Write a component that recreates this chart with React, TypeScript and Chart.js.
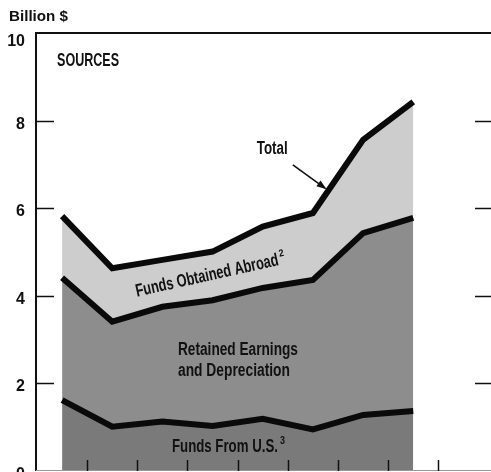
import React, { useEffect, useRef } from "react";
import { Chart, registerables } from "chart.js";
Chart.register(...registerables);

// ---- data (billion $) ----
const periods = ["P1", "P2", "P3", "P4", "P5", "P6", "P7", "P8"];
const fundsFromUS = [1.62, 1.01, 1.13, 1.03, 1.19, 0.95, 1.28, 1.37];
const retainedEarnings = [2.79, 2.4, 2.62, 2.87, 2.99, 3.41, 4.15, 4.41];
const fundsAbroad = [1.41, 1.22, 1.07, 1.11, 1.4, 1.53, 2.13, 2.65];
const yTickValues = [0, 2, 4, 6, 8, 10];
const xTickValues = [0.5, 1.5, 2.5, 3.5, 4.5, 5.5, 6.5, 7.5];

const COND_FONT = '"Liberation Sans", Arial, sans-serif';

function fitText(
  ctx: CanvasRenderingContext2D,
  text: string,
  x: number,
  y: number,
  size: number,
  width: number,
  align: CanvasTextAlign,
  angle = 0,
  weight = "bold"
) {
  ctx.save();
  ctx.font = `${weight} ${size}px ${COND_FONT}`;
  const w = ctx.measureText(text).width;
  const sx = width / w;
  ctx.translate(x, y);
  ctx.rotate(angle);
  ctx.scale(sx, 1);
  ctx.textAlign = align;
  ctx.textBaseline = "middle";
  ctx.fillStyle = "#111";
  ctx.fillText(text, 0, 0);
  ctx.restore();
}

const decor = {
  id: "decor",
  beforeDraw(chart: any) {
    const ctx = chart.ctx;
    ctx.save();
    ctx.fillStyle = "#fff";
    ctx.fillRect(0, 0, chart.width, chart.height);
    ctx.restore();
  },
  afterDraw(chart: any) {
    const ctx: CanvasRenderingContext2D = chart.ctx;
    const { left, right, top, bottom } = chart.chartArea;
    const xs = chart.scales.x;
    const ys = chart.scales.y;
    const X = (v: number) => xs.getPixelForValue(v);
    const Y = (v: number) => ys.getPixelForValue(v);
    ctx.save();
    ctx.strokeStyle = "#111";
    ctx.lineCap = "butt";
    // frame
    ctx.lineWidth = 2;
    ctx.beginPath();
    ctx.moveTo(left, bottom);
    ctx.lineTo(left, top);
    ctx.lineTo(right, top);
    ctx.stroke();
    ctx.strokeStyle = "#999";
    ctx.lineWidth = 1;
    ctx.beginPath();
    ctx.moveTo(left, bottom - 0.5);
    ctx.lineTo(right, bottom - 0.5);
    ctx.stroke();
    // y ticks
    ctx.strokeStyle = "#111";
    ctx.lineWidth = 1.5;
    yTickValues.forEach((v) => {
      if (v === 0 || v === 10) return;
      const y = Math.round(Y(v)) + 0.5;
      ctx.beginPath();
      ctx.moveTo(left, y);
      ctx.lineTo(left + 18, y);
      ctx.moveTo(right - 16, y);
      ctx.lineTo(right, y);
      ctx.stroke();
    });
    // x ticks
    xTickValues.forEach((v) => {
      const x = Math.round(X(v)) + 0.5;
      ctx.beginPath();
      ctx.moveTo(x, bottom);
      ctx.lineTo(x, bottom - 11);
      ctx.stroke();
    });
    // y labels
    ctx.fillStyle = "#111";
    ctx.font = `bold 16px ${COND_FONT}`;
    ctx.textAlign = "right";
    ctx.textBaseline = "middle";
    yTickValues.forEach((v) => {
      const y = Math.max(Y(v) + 3.5, top + 8.5);
      ctx.fillText(String(v), 25, y);
    });
    // unit title
    fitText(ctx, "Billion $", 9, 17, 15, 59, "left", 0, "bold");

    // annotations (positions in data units)
    fitText(ctx, "SOURCES", X(-0.1), Y(9.36), 18, 62, "left");
    fitText(ctx, "Total", X(3.88), Y(7.34), 18, 31, "left");
    // arrow
    const ax0 = X(4.6), ay0 = Y(6.99), ax1 = X(5.24), ay1 = Y(6.46);
    ctx.strokeStyle = "#111";
    ctx.lineWidth = 1.6;
    ctx.beginPath();
    ctx.moveTo(ax0, ay0);
    ctx.lineTo(ax1, ay1);
    ctx.stroke();
    const ang = Math.atan2(ay1 - ay0, ax1 - ax0);
    ctx.beginPath();
    ctx.moveTo(ax1 + 2 * Math.cos(ang), ay1 + 2 * Math.sin(ang));
    ctx.lineTo(ax1 - 8 * Math.cos(ang) + 3.5 * Math.sin(ang), ay1 - 8 * Math.sin(ang) - 3.5 * Math.cos(ang));
    ctx.lineTo(ax1 - 8 * Math.cos(ang) - 3.5 * Math.sin(ang), ay1 - 8 * Math.sin(ang) + 3.5 * Math.cos(ang));
    ctx.closePath();
    ctx.fillStyle = "#111";
    ctx.fill();

    // rotated label in abroad band
    const rot = (-12.5 * Math.PI) / 180;
    const sx0 = X(1.47), sy0 = Y(4.09);
    fitText(ctx, "Funds Obtained Abroad", sx0, sy0, 18, 146, "left", rot);
    const supD = 148;
    fitText(
      ctx,
      "2",
      sx0 + supD * Math.cos(rot) + 6 * Math.sin(rot),
      sy0 + supD * Math.sin(rot) - 6 * Math.cos(rot),
      10,
      5,
      "left",
      rot
    );

    fitText(ctx, "Retained Earnings", X(2.31), Y(2.76), 18, 120, "left");
    fitText(ctx, "and Depreciation", X(2.31), Y(2.28), 18, 112, "left");
    fitText(ctx, "Funds From U.S.", X(2.19), Y(0.55), 18, 106, "left");
    fitText(ctx, "3", X(2.19) + 108, Y(0.55) - 6, 10, 5, "left");
    ctx.restore();
  },
};

export default function App() {
  const ref = useRef<HTMLCanvasElement>(null);
  useEffect(() => {
    document.body.style.margin = "0";
    const lower = periods.map((_, i) => ({ x: i, y: fundsFromUS[i] }));
    const middle = periods.map((_, i) => ({ x: i, y: fundsFromUS[i] + retainedEarnings[i] }));
    const total = periods.map((_, i) => ({
      x: i,
      y: fundsFromUS[i] + retainedEarnings[i] + fundsAbroad[i],
    }));
    const common = {
      borderColor: "#0a0a0a",
      borderWidth: 6,
      pointRadius: 0,
      tension: 0,
      borderJoinStyle: "miter" as const,
      borderCapStyle: "butt" as const,
    };
    const chart = new Chart(ref.current!, {
      type: "line",
      data: {
        datasets: [
          { label: "Funds From U.S.", data: lower, fill: "origin", backgroundColor: "#7a7a7a", ...common },
          { label: "Retained Earnings and Depreciation", data: middle, fill: "-1", backgroundColor: "#8d8d8d", ...common },
          { label: "Total", data: total, fill: "-1", backgroundColor: "#cdcdcd", ...common },
        ],
      },
      options: {
        responsive: false,
        animation: false,
        layout: { padding: { left: 36, top: 33, right: 0, bottom: 1 } },
        scales: {
          x: { type: "linear", min: -0.52, max: 8.55, display: false },
          y: { min: 0, max: 10, display: false },
        },
        plugins: {
          legend: { display: false },
          tooltip: { enabled: false },
          filler: { drawTime: "beforeDatasetsDraw" } as any,
        },
      },
      plugins: [decor],
    });
    return () => chart.destroy();
  }, []);
  return (
    <div style={{ width: 491, height: 472, background: "#fff" }}>
      <canvas ref={ref} width={491} height={472} style={{ display: "block" }} />
    </div>
  );
}
